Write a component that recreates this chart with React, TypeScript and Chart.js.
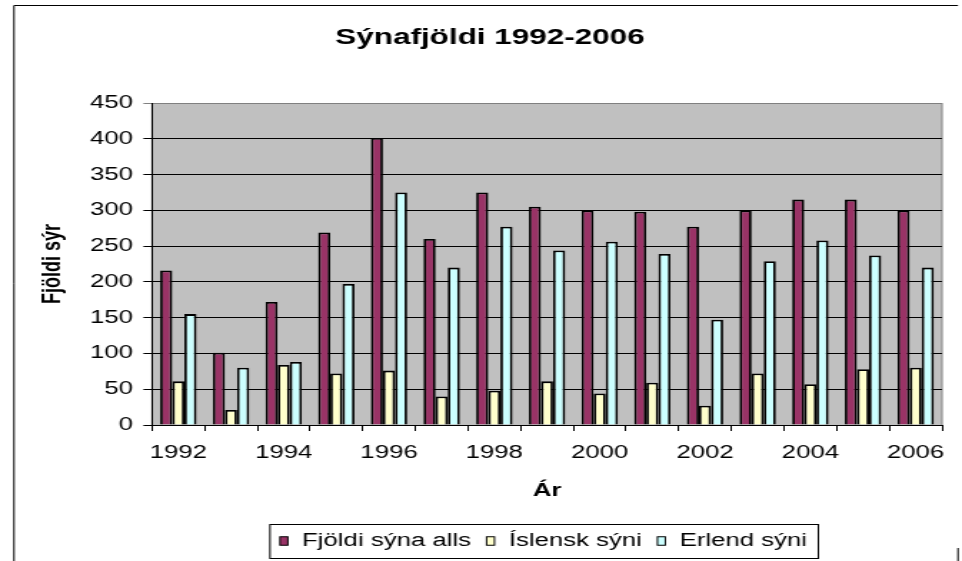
import React, { useEffect, useRef } from "react";
import { Chart, registerables } from "chart.js";

Chart.register(...registerables);

const TITLE = "Sýnafjöldi 1992-2006";
const X_TITLE = "Ár";
const Y_TITLE = "Fjöldi sýr";

const years = ["1992", "1993", "1994", "1995", "1996", "1997", "1998", "1999", "2000", "2001", "2002", "2003", "2004", "2005", "2006"];
const totalShows = [216, 101, 172, 269, 401, 260, 325, 305, 300, 298, 277, 300, 315, 315, 300];
const icelandicShows = [61, 21, 84, 72, 76, 40, 48, 61, 44, 59, 27, 72, 57, 78, 80];
const foreignShows = [155, 80, 88, 197, 325, 220, 277, 244, 256, 239, 147, 229, 258, 237, 220];

const seriesNames = ["Fjöldi sýna alls", "Íslensk sýni", "Erlend sýni"];
const seriesColors = ["#993366", "#FFFFCC", "#CCFFFF"];

const Y_MIN = 0;
const Y_MAX = 450;
const Y_STEP = 50;

// The reference renders text wide; draw on a narrower canvas and stretch it horizontally.
const OUT_W = 962;
const CANVAS_W = 673;
const CANVAS_H = 561;
const SX = OUT_W / CANVAS_W;

const FONT = "'Liberation Sans', Arial, sans-serif";

const framePlugin = {
  id: "frameAndBg",
  beforeDraw(chart: any) {
    const { ctx, chartArea } = chart;
    ctx.save();
    ctx.fillStyle = "#ffffff";
    ctx.fillRect(0, 0, chart.width, chart.height);
    // outer frame
    ctx.strokeStyle = "#000000";
    ctx.lineWidth = 1;
    ctx.beginPath();
    ctx.moveTo(14 / SX, 5.5);
    ctx.lineTo(958 / SX, 5.5);
    ctx.moveTo(14 / SX, 5.5);
    ctx.lineTo(14 / SX, chart.height);
    ctx.moveTo(958 / SX, 548);
    ctx.lineTo(958 / SX, chart.height);
    ctx.stroke();
    // plot background
    ctx.fillStyle = "#C0C0C0";
    ctx.fillRect(chartArea.left, chartArea.top, chartArea.right - chartArea.left, chartArea.bottom - chartArea.top);
    ctx.strokeStyle = "#808080";
    ctx.strokeRect(chartArea.left, chartArea.top + 0.5, chartArea.right - chartArea.left, chartArea.bottom - chartArea.top);
    // title
    ctx.fillStyle = "#000000";
    ctx.font = `bold 22px ${FONT}`;
    ctx.textAlign = "center";
    ctx.textBaseline = "alphabetic";
    ctx.fillText(TITLE, 490 / SX, 44);
    ctx.restore();
  },
  afterDraw(chart: any) {
    const { ctx, chartArea } = chart;
    const datasets = chart.data.datasets;
    ctx.save();
    ctx.font = `18px ${FONT}`;
    const padL = 7;
    const padR = 8;
    const markW = 5.5;
    const markH = 8.5;
    const gapMT = 10;
    const itemGap = 11;
    const widths = datasets.map((d: any) => ctx.measureText(d.label).width);
    let total = padL + padR + (datasets.length - 1) * itemGap;
    widths.forEach((w: number) => (total += markW + gapMT + w));
    const cx = (chartArea.left + chartArea.right) / 2 - 2;
    const left = cx - total / 2;
    const top = 524;
    const bottom = 558;
    ctx.fillStyle = "#ffffff";
    ctx.fillRect(left, top, total, bottom - top);
    ctx.strokeStyle = "#000000";
    ctx.lineWidth = 1;
    ctx.strokeRect(left, top + 0.5, total, bottom - top);
    const midY = 541;
    let x = left + padL;
    datasets.forEach((d: any, i: number) => {
      ctx.fillStyle = d.backgroundColor;
      ctx.fillRect(x, midY - markH / 2, markW, markH);
      ctx.strokeStyle = "#000000";
      ctx.strokeRect(x, midY - markH / 2, markW, markH);
      x += markW + gapMT;
      ctx.fillStyle = "#000000";
      ctx.textAlign = "left";
      ctx.textBaseline = "middle";
      ctx.fillText(d.label, x, midY);
      x += widths[i] + itemGap;
    });
    ctx.restore();
  },
};

export default function App() {
  const ref = useRef<HTMLCanvasElement | null>(null);

  useEffect(() => {
    if (!ref.current) return;
    const data = [totalShows, icelandicShows, foreignShows];
    const chart = new Chart(ref.current, {
      type: "bar",
      data: {
        labels: years,
        datasets: data.map((values, i) => ({
          label: seriesNames[i],
          data: values,
          backgroundColor: seriesColors[i],
          borderColor: "#000000",
          borderWidth: 1.8,
          categoryPercentage: 0.69,
          barPercentage: 1.0,
        })),
      },
      options: {
        animation: false,
        responsive: false,
        maintainAspectRatio: false,
        devicePixelRatio: 1,
        layout: { padding: { top: 103, right: CANVAS_W - 942 / SX, left: 0, bottom: 0 } },
        plugins: {
          legend: { display: false },
          title: { display: false },
          tooltip: { enabled: false },
        },
        scales: {
          x: {
            afterFit(scale: any) {
              scale.height = CANVAS_H - 425;
            },
            grid: {
              display: true,
              drawOnChartArea: false,
              drawTicks: true,
              tickLength: 6,
              color: "#000000",
              offset: true,
            },
            border: { display: true, color: "#000000", width: 1 },
            ticks: {
              autoSkip: false,
              maxRotation: 0,
              minRotation: 0,
              padding: 11,
              color: "#000000",
              font: { family: FONT, size: 18 },
              callback: (_v: any, i: number) => (i % 2 === 0 ? years[i] : ""),
            },
            title: {
              display: true,
              text: X_TITLE,
              color: "#000000",
              font: { family: FONT, size: 18, weight: "bold" },
              padding: { top: 0, bottom: 59 },
            },
          },
          y: {
            min: Y_MIN,
            max: Y_MAX,
            afterFit(scale: any) {
              scale.width = 152 / SX;
            },
            grid: {
              color: (c: any) => (c.tick && c.tick.value === Y_MAX ? "#808080" : "#000000"),
              lineWidth: 1,
              tickLength: 6,
              drawTicks: true,
            },
            border: { display: true, color: "#000000", width: 1 },
            ticks: {
              stepSize: Y_STEP,
              padding: 7.3,
              color: "#000000",
              font: { family: FONT, size: 18 },
            },
            title: {
              display: true,
              text: Y_TITLE,
              color: "#000000",
              font: { family: FONT, size: 18, weight: "bold" },
              padding: { top: 26, bottom: 0 },
            },
          },
        },
      },
      plugins: [framePlugin],
    } as any);
    return () => chart.destroy();
  }, []);

  return (
    <canvas
      ref={ref}
      width={CANVAS_W}
      height={CANVAS_H}
      style={{
        position: "fixed",
        left: 0,
        top: 0,
        transform: `scaleX(${SX})`,
        transformOrigin: "0 0",
      }}
    />
  );
}
